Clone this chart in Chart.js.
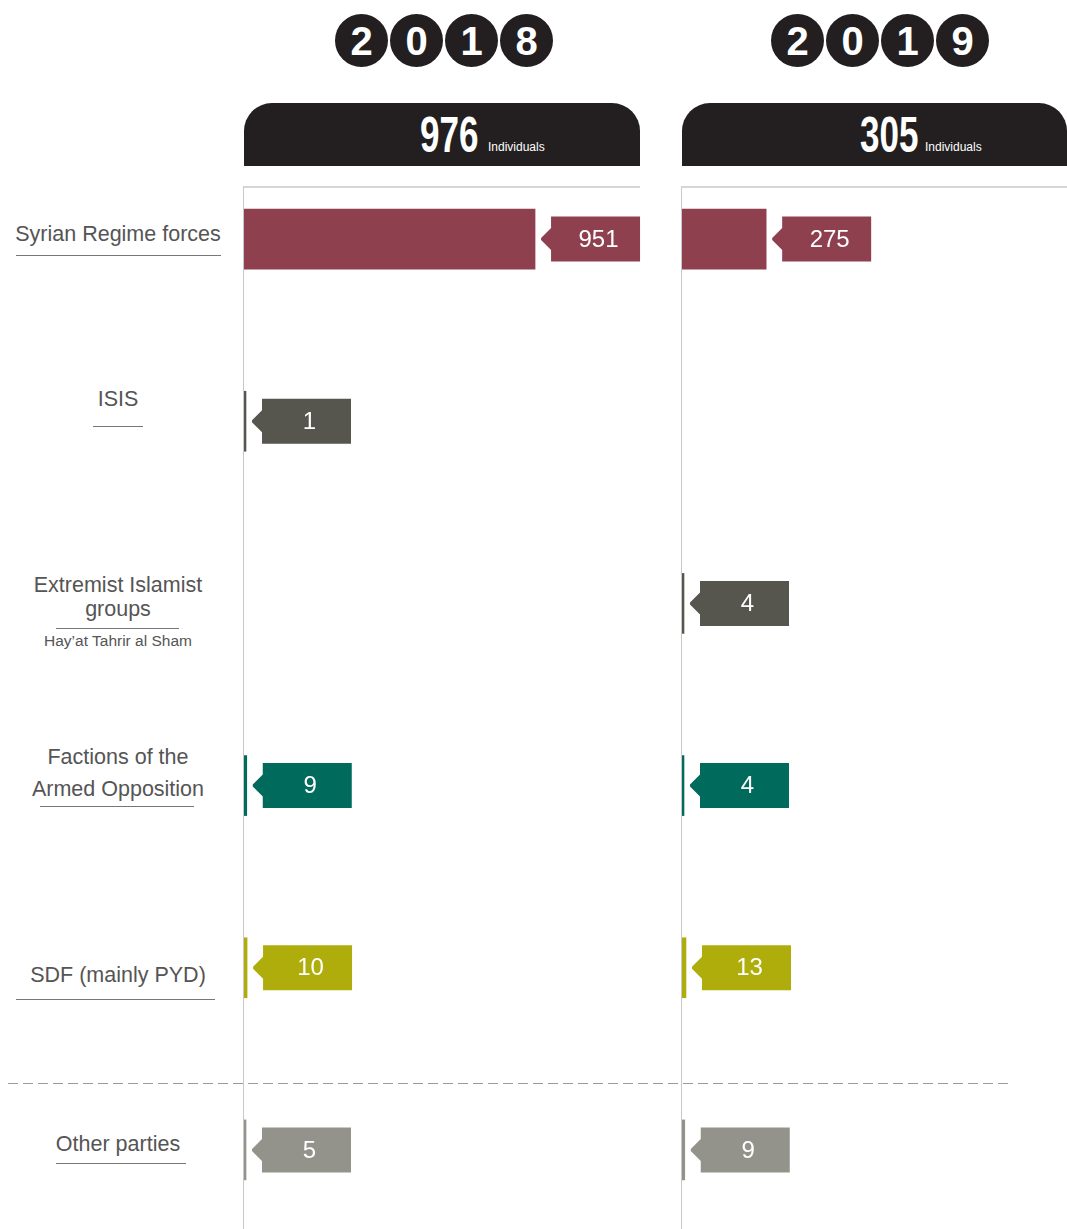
<!DOCTYPE html>
<html>
<head>
<meta charset="utf-8">
<script src="https://cdn.jsdelivr.net/npm/chart.js@4.4.1/dist/chart.umd.min.js"></script>
<style>
  html, body { margin: 0; padding: 0; background: #fff; }
  body { width: 1067px; height: 1229px; position: relative; overflow: hidden; font-family: "Liberation Sans", Arial, sans-serif; }
  .year { position: absolute; top: 14px; display: flex; gap: 2px; }
  .year span { width: 53px; height: 53px; border-radius: 50%; background: #231f20; color: #fff;
    font: bold 40px/54px "Liberation Sans", Arial, sans-serif; text-align: center; }
  .head { position: absolute; top: 103px; height: 63px; background: #231f20; border-radius: 28px 28px 0 0; color: #fff; }
  .head .num { position: absolute; top: 7px; font: bold 50px/50px "Liberation Sans", Arial, sans-serif;
    transform: scaleX(0.7); transform-origin: left center; }
  .head .unit { position: absolute; top: 38px; font: 12px/12px "Liberation Sans", Arial, sans-serif; }
  .frame { position: absolute; top: 186px; bottom: 0; border-left: 1px solid #c8c8c8; border-top: 2px solid #d6d6d6; }
  .lab { position: absolute; left: 0; width: 236px; text-align: center; color: #555; font-size: 21.5px; line-height: 24px; }
  .lab.small { font-size: 15.5px; line-height: 18px; }
  .rule { position: absolute; height: 0; border-top: 1.5px solid #777; }
  .dash { position: absolute; left: 8px; width: 1002px; top: 1083px; height: 1px;
    background: repeating-linear-gradient(to right, #9a9a9a 0 10px, transparent 10px 15px); }
  canvas { position: absolute; }
</style>
</head>
<body>

<div class="year" style="left:335px"><span>2</span><span>0</span><span>1</span><span>8</span></div>
<div class="year" style="left:771px"><span>2</span><span>0</span><span>1</span><span>9</span></div>

<div class="head" style="left:244px; width:396px">
  <span class="num" style="left:176px">976</span><span class="unit" style="left:244px">Individuals</span>
</div>
<div class="head" style="left:682px; width:385px">
  <span class="num" style="left:178px">305</span><span class="unit" style="left:243px">Individuals</span>
</div>

<div class="frame" style="left:243px; width:396px"></div>
<div class="frame" style="left:681px; width:400px"></div>

<div class="lab" style="top:222px">Syrian Regime forces</div>
<div class="rule" style="top:255px; left:16px; width:205px"></div>

<div class="lab" style="top:387px">ISIS</div>
<div class="rule" style="top:426px; left:93px; width:50px"></div>

<div class="lab" style="top:573px">Extremist Islamist</div>
<div class="lab" style="top:597px">groups</div>
<div class="rule" style="top:628px; left:56px; width:123px"></div>
<div class="lab small" style="top:632px">Hay’at Tahrir al Sham</div>

<div class="lab" style="top:745px">Factions of the</div>
<div class="lab" style="top:777px">Armed Opposition</div>
<div class="rule" style="top:806px; left:40px; width:154px"></div>

<div class="lab" style="top:963px">SDF (mainly PYD)</div>
<div class="rule" style="top:999px; left:16px; width:199px"></div>

<div class="lab" style="top:1132px">Other parties</div>
<div class="rule" style="top:1163px; left:56px; width:130px"></div>

<canvas id="c2018" width="400" height="1093" style="left:244px; top:148px"></canvas>
<canvas id="c2019" width="400" height="1093" style="left:682px; top:148px"></canvas>

<div class="dash"></div>

<script>
// parties, in the order they are listed down the page
const parties = ['Syrian Regime forces', 'ISIS', 'Extremist Islamist groups',
                 'Factions of the Armed Opposition', 'SDF (mainly PYD)', 'Other parties'];
const values2018 = [951, 1, null, 9, 10, 5];
const values2019 = [275, null, 4, 4, 13, 9];
const partyColors = ['#8f404f', '#56564f', '#56564f', '#006b5c', '#afad0b', '#93938b'];

// both panels share one scale so the bars compare
const X_MAX = 1307;

// value flag: box with a notch pointing back at the bar end
const flagPlugin = {
  id: 'flags',
  afterDatasetsDraw(chart) {
    const ctx = chart.ctx;
    const vals = chart.data.datasets[0].data;
    chart.getDatasetMeta(0).data.forEach((bar, i) => {
      if (vals[i] == null) return;
      const tip = bar.x + 6, left = tip + 10, cy = bar.y, w = 89, h = 45;
      ctx.save();
      ctx.fillStyle = partyColors[i];
      ctx.beginPath();
      ctx.moveTo(left, cy - h / 2);
      ctx.lineTo(left + w, cy - h / 2);
      ctx.lineTo(left + w, cy + h / 2);
      ctx.lineTo(left, cy + h / 2);
      ctx.lineTo(left, cy + 11);
      ctx.lineTo(tip, cy + 1);
      ctx.lineTo(tip, cy - 1);
      ctx.lineTo(left, cy - 11);
      ctx.closePath();
      ctx.fill();
      ctx.fillStyle = '#fff';
      ctx.font = '24px "Liberation Sans", Arial, sans-serif';
      ctx.textAlign = 'center';
      ctx.textBaseline = 'middle';
      ctx.fillText(String(vals[i]), left + w / 2 + 3, cy + 1);
      ctx.restore();
    });
  }
};

function makePanel(id, values) {
  return new Chart(document.getElementById(id), {
    type: 'bar',
    data: {
      labels: parties,
      datasets: [{
        data: values,
        backgroundColor: partyColors,
        barThickness: 60,
        minBarLength: 2,
        borderWidth: 0,
      }],
    },
    options: {
      indexAxis: 'y',
      responsive: false,
      animation: false,
      layout: { padding: 0 },
      plugins: { legend: { display: false }, tooltip: { enabled: false } },
      scales: {
        x: { display: false, min: 0, max: X_MAX },
        y: { display: false, offset: true },
      },
    },
    plugins: [flagPlugin],
  });
}

makePanel('c2018', values2018);
makePanel('c2019', values2019);
</script>
</body>
</html>
